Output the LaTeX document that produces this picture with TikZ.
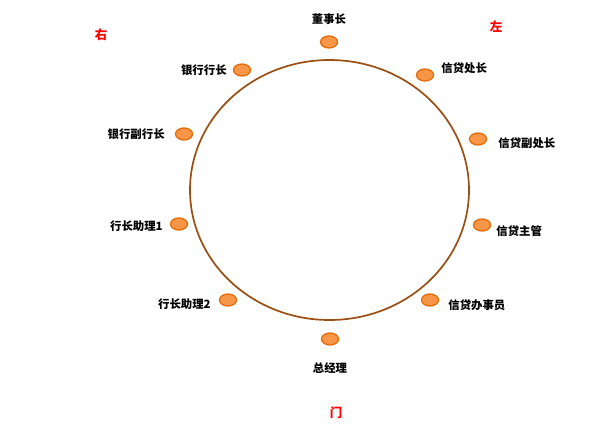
\documentclass[tikz,border=0pt]{standalone}
\usepackage{fontspec}
\newfontfamily\cjk{Noto Sans CJK SC}
\usetikzlibrary{positioning,shapes.geometric}
\definecolor{ringbrown}{HTML}{9C4F12}
\definecolor{seatfill}{HTML}{F79646}
\definecolor{seatedge}{HTML}{E46C0A}
\tikzset{
  seat/.style={ellipse, draw=seatedge, fill=seatfill, line width=1.3pt,
    minimum width=17pt, minimum height=12pt, inner sep=0pt},
  who/.style={font=\cjk\bfseries\fontsize{11.4}{13}\selectfont, inner sep=1pt},
  side/.style={font=\cjk\bfseries\fontsize{12.5}{14}\selectfont, text=red, inner sep=1pt}
}
\begin{document}
\begin{tikzpicture}[x=1pt, y=-1pt]
    \useasboundingbox (0,0) rectangle (599,424);
    % table
    \draw[ringbrown, line width=1.7pt] (329.5,190) ellipse (139.5 and 130);
    % seats
    \node[seat] (dsz) at (329,42) {};
    \node[seat] (hz) at (242,70) {};
    \node[seat] (xdcz) at (425,75) {};
    \node[seat] (fhz) at (184,134) {};
    \node[seat] (xdfcz) at (478,139) {};
    \node[seat] (zl1) at (179,224) {};
    \node[seat] (xdzg) at (482,225) {};
    \node[seat] (zl2) at (228,300) {};
    \node[seat] (xdbsy) at (430,300) {};
    \node[seat] (zjl) at (330,339) {};
    % names
    \node[who, above=10pt of dsz] (t-dsz) {董事长};
    \node[who, left=5pt of hz] (t-hz) {银行行长};
    \node[who, right=6pt of xdcz, yshift=7pt] (t-xdcz) {信贷处长};
    \node[who, left=9pt of fhz] (t-fhz) {银行副行长};
    \node[who, right=10pt of xdfcz, yshift=-4pt] (t-xdfcz) {信贷副处长};
    \node[who, left=6pt of zl1, yshift=-2pt] (t-zl1) {行长助理1};
    \node[who, right=4pt of xdzg, yshift=-6pt] (t-xdzg) {信贷主管};
    \node[who, left=7pt of zl2, yshift=-4pt] (t-zl2) {行长助理2};
    \node[who, right=8pt of xdbsy, yshift=-5pt] (t-xdbsy) {信贷办事员};
    \node[who, below=16pt of zjl] (t-zjl) {总经理};
    % sides
    \node[side] (you) at (101,35) {右};
    \node[side] (zuo) at (496,27) {左};
    \node[side] (men) at (336,413) {门};
\end{tikzpicture}
\end{document}
